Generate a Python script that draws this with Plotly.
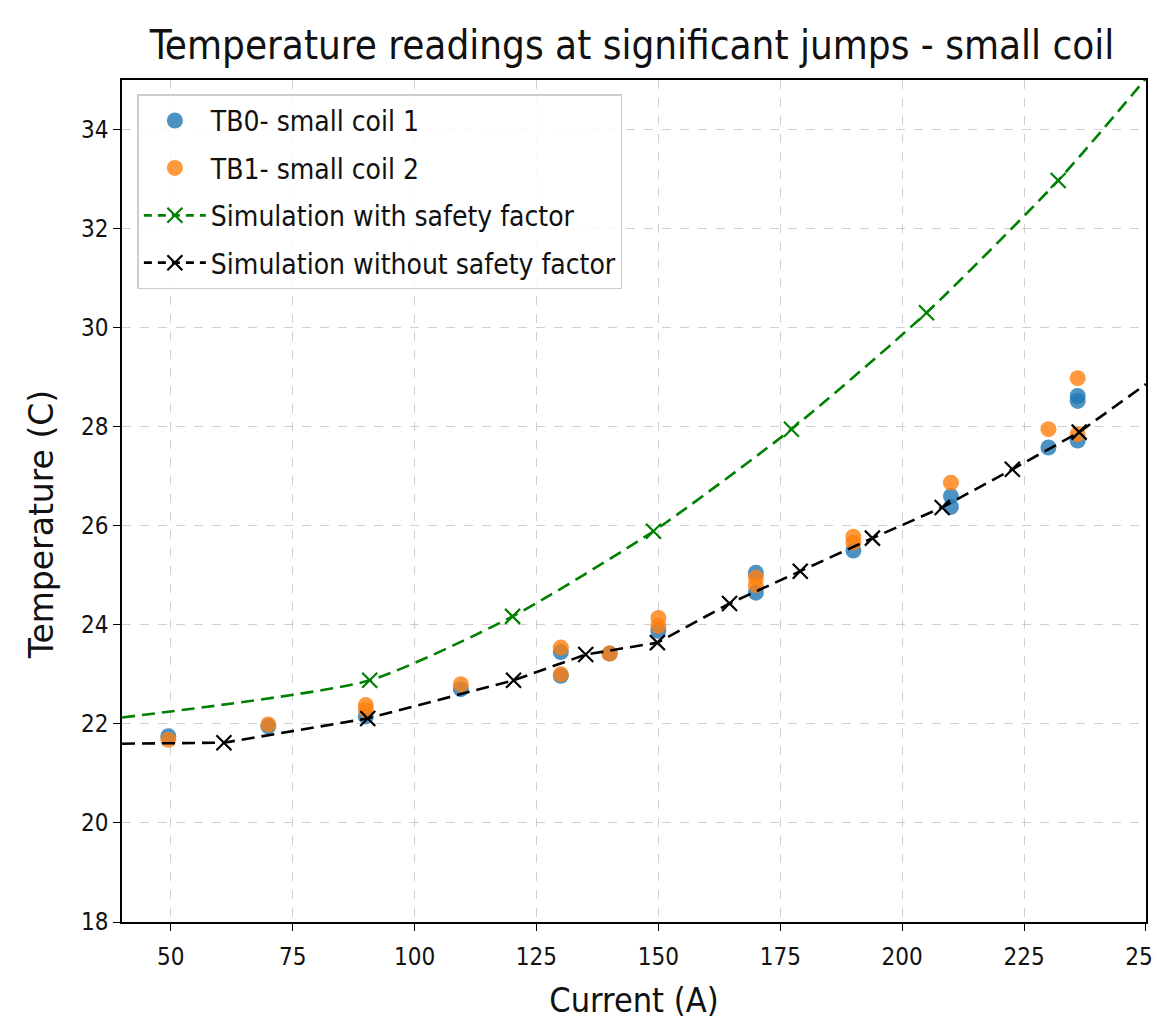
import plotly.graph_objects as go

# Measured data
tb0_current = [49.5, 70, 90, 109.5, 130, 130, 140, 150, 170, 170, 190, 210, 210, 230, 236, 236, 236]
tb0_temp = [21.75, 21.95, 22.15, 22.7, 23.45, 22.97, 23.42, 23.88, 25.05, 24.65, 25.5, 26.6, 26.38, 27.58, 28.62, 28.52, 27.72]

tb1_current = [49.5, 70, 90, 90, 109.5, 130, 130, 140, 150, 150, 170, 170, 190, 190, 210, 230, 236, 236]
tb1_temp = [21.68, 21.99, 22.38, 22.28, 22.8, 23.54, 23.0, 23.42, 24.14, 23.98, 24.95, 24.8, 25.78, 25.66, 26.87, 27.95, 28.98, 27.85]

# Simulation with safety factor (line and marker points)
sim_sf_line_current = [40, 90.8, 120.1, 149.0, 177.3, 205.0, 232.0, 250]
sim_sf_line_temp = [22.13, 22.88, 24.17, 25.89, 27.95, 30.30, 32.97, 35.03]
sim_sf_mark_current = [90.8, 120.1, 149.0, 177.3, 205.0, 232.0]
sim_sf_mark_temp = [22.88, 24.17, 25.89, 27.95, 30.30, 32.97]

# Simulation without safety factor
sim_line_current = [40, 60.9, 90.4, 120.3, 135.1, 149.8, 164.6, 179.1, 193.9, 208.2, 222.6, 236.3, 250]
sim_line_temp = [21.6, 21.62, 22.11, 22.88, 23.40, 23.64, 24.43, 25.08, 25.75, 26.37, 27.14, 27.89, 28.86]
sim_mark_current = [60.9, 90.4, 120.3, 135.1, 149.8, 164.6, 179.1, 193.9, 208.2, 222.6, 236.3]
sim_mark_temp = [21.62, 22.11, 22.88, 23.40, 23.64, 24.43, 25.08, 25.75, 26.37, 27.14, 27.89]

x_ticks = [50, 75, 100, 125, 150, 175, 200, 225, 250]
y_ticks = [18, 20, 22, 24, 26, 28, 30, 32, 34]

FONT = "DejaVu Sans Condensed, DejaVu Sans, sans-serif"
FONT_N = "DejaVu Sans, sans-serif"
BLUE = "rgba(31,119,180,0.8)"
ORANGE = "rgba(255,127,14,0.8)"
GREEN = "#008000"
DASH = "13px,7px"
XSIZE = 15

fig = go.Figure()

fig.add_trace(go.Scatter(x=tb0_current, y=tb0_temp, mode="markers", name="TB0- small coil 1",
                         legendgroup="a",
                         marker=dict(color=BLUE, size=16, line=dict(width=0))))
fig.add_trace(go.Scatter(x=tb1_current, y=tb1_temp, mode="markers", name="TB1- small coil 2",
                         legendgroup="b",
                         marker=dict(color=ORANGE, size=16, line=dict(width=0))))

# green simulation
fig.add_trace(go.Scatter(x=sim_sf_line_current, y=sim_sf_line_temp, mode="lines", showlegend=False,
                         line=dict(color=GREEN, width=2.6, dash=DASH, shape="spline", smoothing=0.6),
                         hoverinfo="skip"))
fig.add_trace(go.Scatter(x=sim_sf_mark_current, y=sim_sf_mark_temp, mode="markers", showlegend=False,
                         marker=dict(symbol="x-thin", size=XSIZE, line=dict(color=GREEN, width=2.2))))
fig.add_trace(go.Scatter(x=[None], y=[None], mode="lines+markers", name="Simulation with safety factor",
                         legendgroup="c",
                         line=dict(color=GREEN, width=2.8, dash="8px,6px"),
                         marker=dict(symbol="x-thin", size=XSIZE, line=dict(color=GREEN, width=2.2))))

# black simulation
fig.add_trace(go.Scatter(x=sim_line_current, y=sim_line_temp, mode="lines", showlegend=False,
                         line=dict(color="black", width=2.6, dash=DASH), hoverinfo="skip"))
fig.add_trace(go.Scatter(x=sim_mark_current, y=sim_mark_temp, mode="markers", showlegend=False,
                         marker=dict(symbol="x-thin", size=XSIZE, line=dict(color="black", width=2.2))))
fig.add_trace(go.Scatter(x=[None], y=[None], mode="lines+markers", name="Simulation without safety factor",
                         legendgroup="d",
                         line=dict(color="black", width=2.8, dash="8px,6px"),
                         marker=dict(symbol="x-thin", size=XSIZE, line=dict(color="black", width=2.2))))

axis_common = dict(
    showline=True, linecolor="black", linewidth=1.5, mirror=True,
    ticks="outside", ticklen=7, tickwidth=1.3, tickcolor="black",
    showgrid=True, gridcolor="rgba(176,176,176,0.6)", griddash="dash", gridwidth=1,
    zeroline=False, tickfont=dict(family=FONT, size=24, color="#111111"),
    automargin=False, ticklabeloverflow="allow",
)

# page body has an 8px margin; size the figure so the page fits the window exactly
W, H = 1146, 1012

fig.update_layout(
    width=W, height=H,
    margin=dict(l=114, r=8, t=72, b=98),
    paper_bgcolor="white", plot_bgcolor="white",
    title=dict(text="Temperature readings at significant jumps - small coil",
               x=(632 - 8) / W, xanchor="center", y=1 - (45 - 8) / H, yanchor="middle",
               font=dict(family=FONT, size=40, color="#111111")),
    xaxis=dict(range=[40, 250.01], tickvals=x_ticks, ticktext=[str(v) for v in x_ticks],
               ticklabelstandoff=5,
               title=dict(text="Current (A)", font=dict(family=FONT, size=34, color="#111111"), standoff=23),
               **axis_common),
    yaxis=dict(range=[18, 35], tickvals=y_ticks, ticktext=[str(v) for v in y_ticks],
               **axis_common),
    legend=dict(x=0.015, y=0.983, xanchor="left", yanchor="top",
                bgcolor="rgba(255,255,255,0.85)", bordercolor="#cccccc", borderwidth=1.5,
                font=dict(family=FONT, size=28, color="#111111"), itemwidth=62,
                traceorder="grouped", tracegroupgap=8),
    showlegend=True,
    annotations=[dict(text="Temperature (C)", xref="paper", yref="paper",
                      x=-0.078, y=0.4715, xanchor="center", yanchor="middle",
                      textangle=-90, showarrow=False,
                      font=dict(family=FONT_N, size=33, color="#111111"))],
)

fig.write_html("out.html")
